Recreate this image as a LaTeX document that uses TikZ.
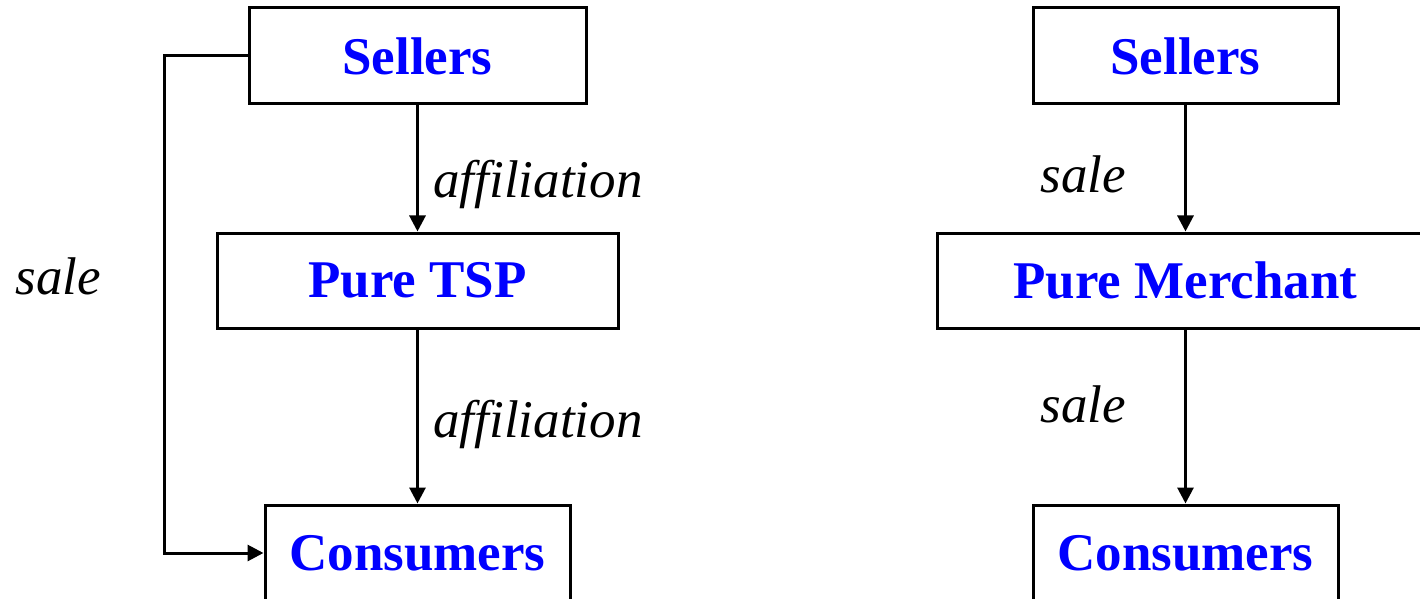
\documentclass[tikz,border=0pt]{standalone}
\usepackage{fontspec}
\setmainfont{Liberation Serif}
\usetikzlibrary{arrows.meta}
\definecolor{boxblue}{RGB}{0,0,255}
\tikzset{
  box/.style={draw=black, line width=1.5pt, fill=white, inner sep=0pt,
    font=\fontsize{26.5}{30}\selectfont\bfseries, text=boxblue, anchor=center},
  flow/.style={line width=1.5pt, -{Triangle[length=8pt,width=8pt]}},
  lbl/.style={font=\fontsize{26.5}{30}\selectfont\itshape, inner sep=0pt, anchor=base west}
}
\begin{document}
\begin{tikzpicture}[x=0.5pt,y=-0.5pt]
\useasboundingbox (0,0) rectangle (1420,599);
\clip (0,0) rectangle (1420,599);
% left diagram
\node[box, minimum width=168.5pt, minimum height=48pt] (ls) at (417.5,56) {Sellers};
\node[box, minimum width=200.5pt, minimum height=47.5pt] (lt) at (417.5,280.5) {Pure TSP};
\node[box, minimum width=152.5pt, minimum height=48pt] (lc) at (417.5,553) {Consumers};
\coordinate (turn) at (164,0);
\draw[flow] (ls.south) -- (lt.north);
\draw[flow] (lt.south) -- (lc.north);
\draw[flow] (ls.west) -- (ls.west -| turn) |- (lc.west);
\node[lbl] (la1) at (433,198) {affiliation};
\node[lbl] (la2) at (433,437) {affiliation};
\node[lbl] (lsale) at (15,294) {sale};
% right diagram
\node[box, minimum width=152.5pt, minimum height=48pt] (rs) at (1185.5,56) {Sellers};
\node[box, minimum width=248pt, minimum height=47.5pt] (rm) at (1185.5,280.5) {Pure Merchant};
\node[box, minimum width=152.5pt, minimum height=48pt] (rc) at (1185.5,553) {Consumers};
\draw[flow] (rs.south) -- (rm.north);
\draw[flow] (rm.south) -- (rc.north);
\node[lbl] (rsale1) at (1040,192) {sale};
\node[lbl] (rsale2) at (1040,422) {sale};
\end{tikzpicture}
\end{document}
